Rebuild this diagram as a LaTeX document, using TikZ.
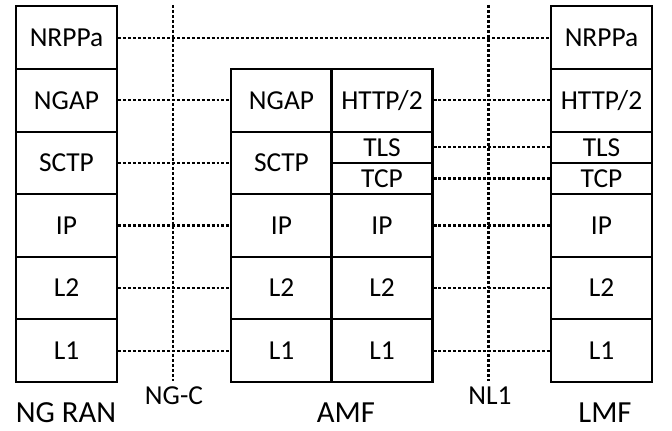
\documentclass[tikz,border=0pt]{standalone}
\usepackage{fontspec}
\setmainfont{Carlito}
\usetikzlibrary{positioning}

\begin{document}
\begin{tikzpicture}[x=0.025cm, y=-0.025cm, line width=1.5pt,
	every node/.style={font=\fontsize{19.5}{22}\selectfont},
	layer/.style={draw, rectangle, inner sep=0pt, minimum width=2.525cm, minimum height=1.565cm},
	half/.style={layer, minimum height=0.7825cm},
	entity/.style={font=\fontsize{21.8}{24}\selectfont},
	link/.style={line width=1.5pt, dash pattern=on 2.1pt off 1.4pt}]
		\useasboundingbox (0, 0) rectangle (672, 431);
		
		\node[layer] (r1) at (66.5, 37.7) {NRPPa};
		\node[layer] (r2) at (66.5, 100.3) {NGAP};
		\node[layer] (r3) at (66.5, 162.9) {SCTP};
		\node[layer] (r4) at (66.5, 225.5) {IP};
		\node[layer] (r5) at (66.5, 288.1) {L2};
		\node[layer] (r6) at (66.5, 350.7) {L1};
		\node[entity] (ran) at (66, 413) {NG RAN};
		
		\node[layer] (a2) at (281.5, 100.3) {NGAP};
		\node[layer] (a3) at (281.5, 162.9) {SCTP};
		\node[layer] (a4) at (281.5, 225.5) {IP};
		\node[layer] (a5) at (281.5, 288.1) {L2};
		\node[layer] (a6) at (281.5, 350.7) {L1};
		\node[layer] (b2) at (382, 100.3) {HTTP/2};
		\node[half] (btls) at (382, 147.25) {TLS};
		\node[half] (btcp) at (382, 178.55) {TCP};
		\node[layer] (b4) at (382, 225.5) {IP};
		\node[layer] (b5) at (382, 288.1) {L2};
		\node[layer] (b6) at (382, 350.7) {L1};
		\node[entity] (amf) at (346, 413) {AMF};
		
		\node[layer] (l1) at (601.5, 37.7) {NRPPa};
		\node[layer] (l2) at (601.5, 100.3) {HTTP/2};
		\node[half] (ltls) at (601.5, 147.25) {TLS};
		\node[half] (ltcp) at (601.5, 178.55) {TCP};
		\node[layer] (l4) at (601.5, 225.5) {IP};
		\node[layer] (l5) at (601.5, 288.1) {L2};
		\node[layer] (l6) at (601.5, 350.7) {L1};
		\node[entity] (lmf) at (605, 413) {LMF};
		
		\node (ngc) at (174, 396) {NG-C};
		\node (nl1) at (490, 396) {NL1};
		\coordinate (ngctop) at (173, 5);
		\coordinate (nl1top) at (488.5, 5);
		\draw[link] (ngctop) -- (ngctop |- ngc.north);
		\draw[link] (nl1top) -- (nl1top |- nl1.north);
		
		\draw[link] (r1) -- (l1);
		\draw[link] (r2) -- (a2);
		\draw[link] (r3) -- (a3);
		\draw[link] (r4) -- (a4);
		\draw[link] (r5) -- (a5);
		\draw[link] (r6) -- (a6);
		\draw[link] (b2) -- (l2);
		\draw[link] (btls) -- (ltls);
		\draw[link] (btcp) -- (ltcp);
		\draw[link] (b4) -- (l4);
		\draw[link] (b5) -- (l5);
		\draw[link] (b6) -- (l6);
		
	\end{tikzpicture}
\end{document}
